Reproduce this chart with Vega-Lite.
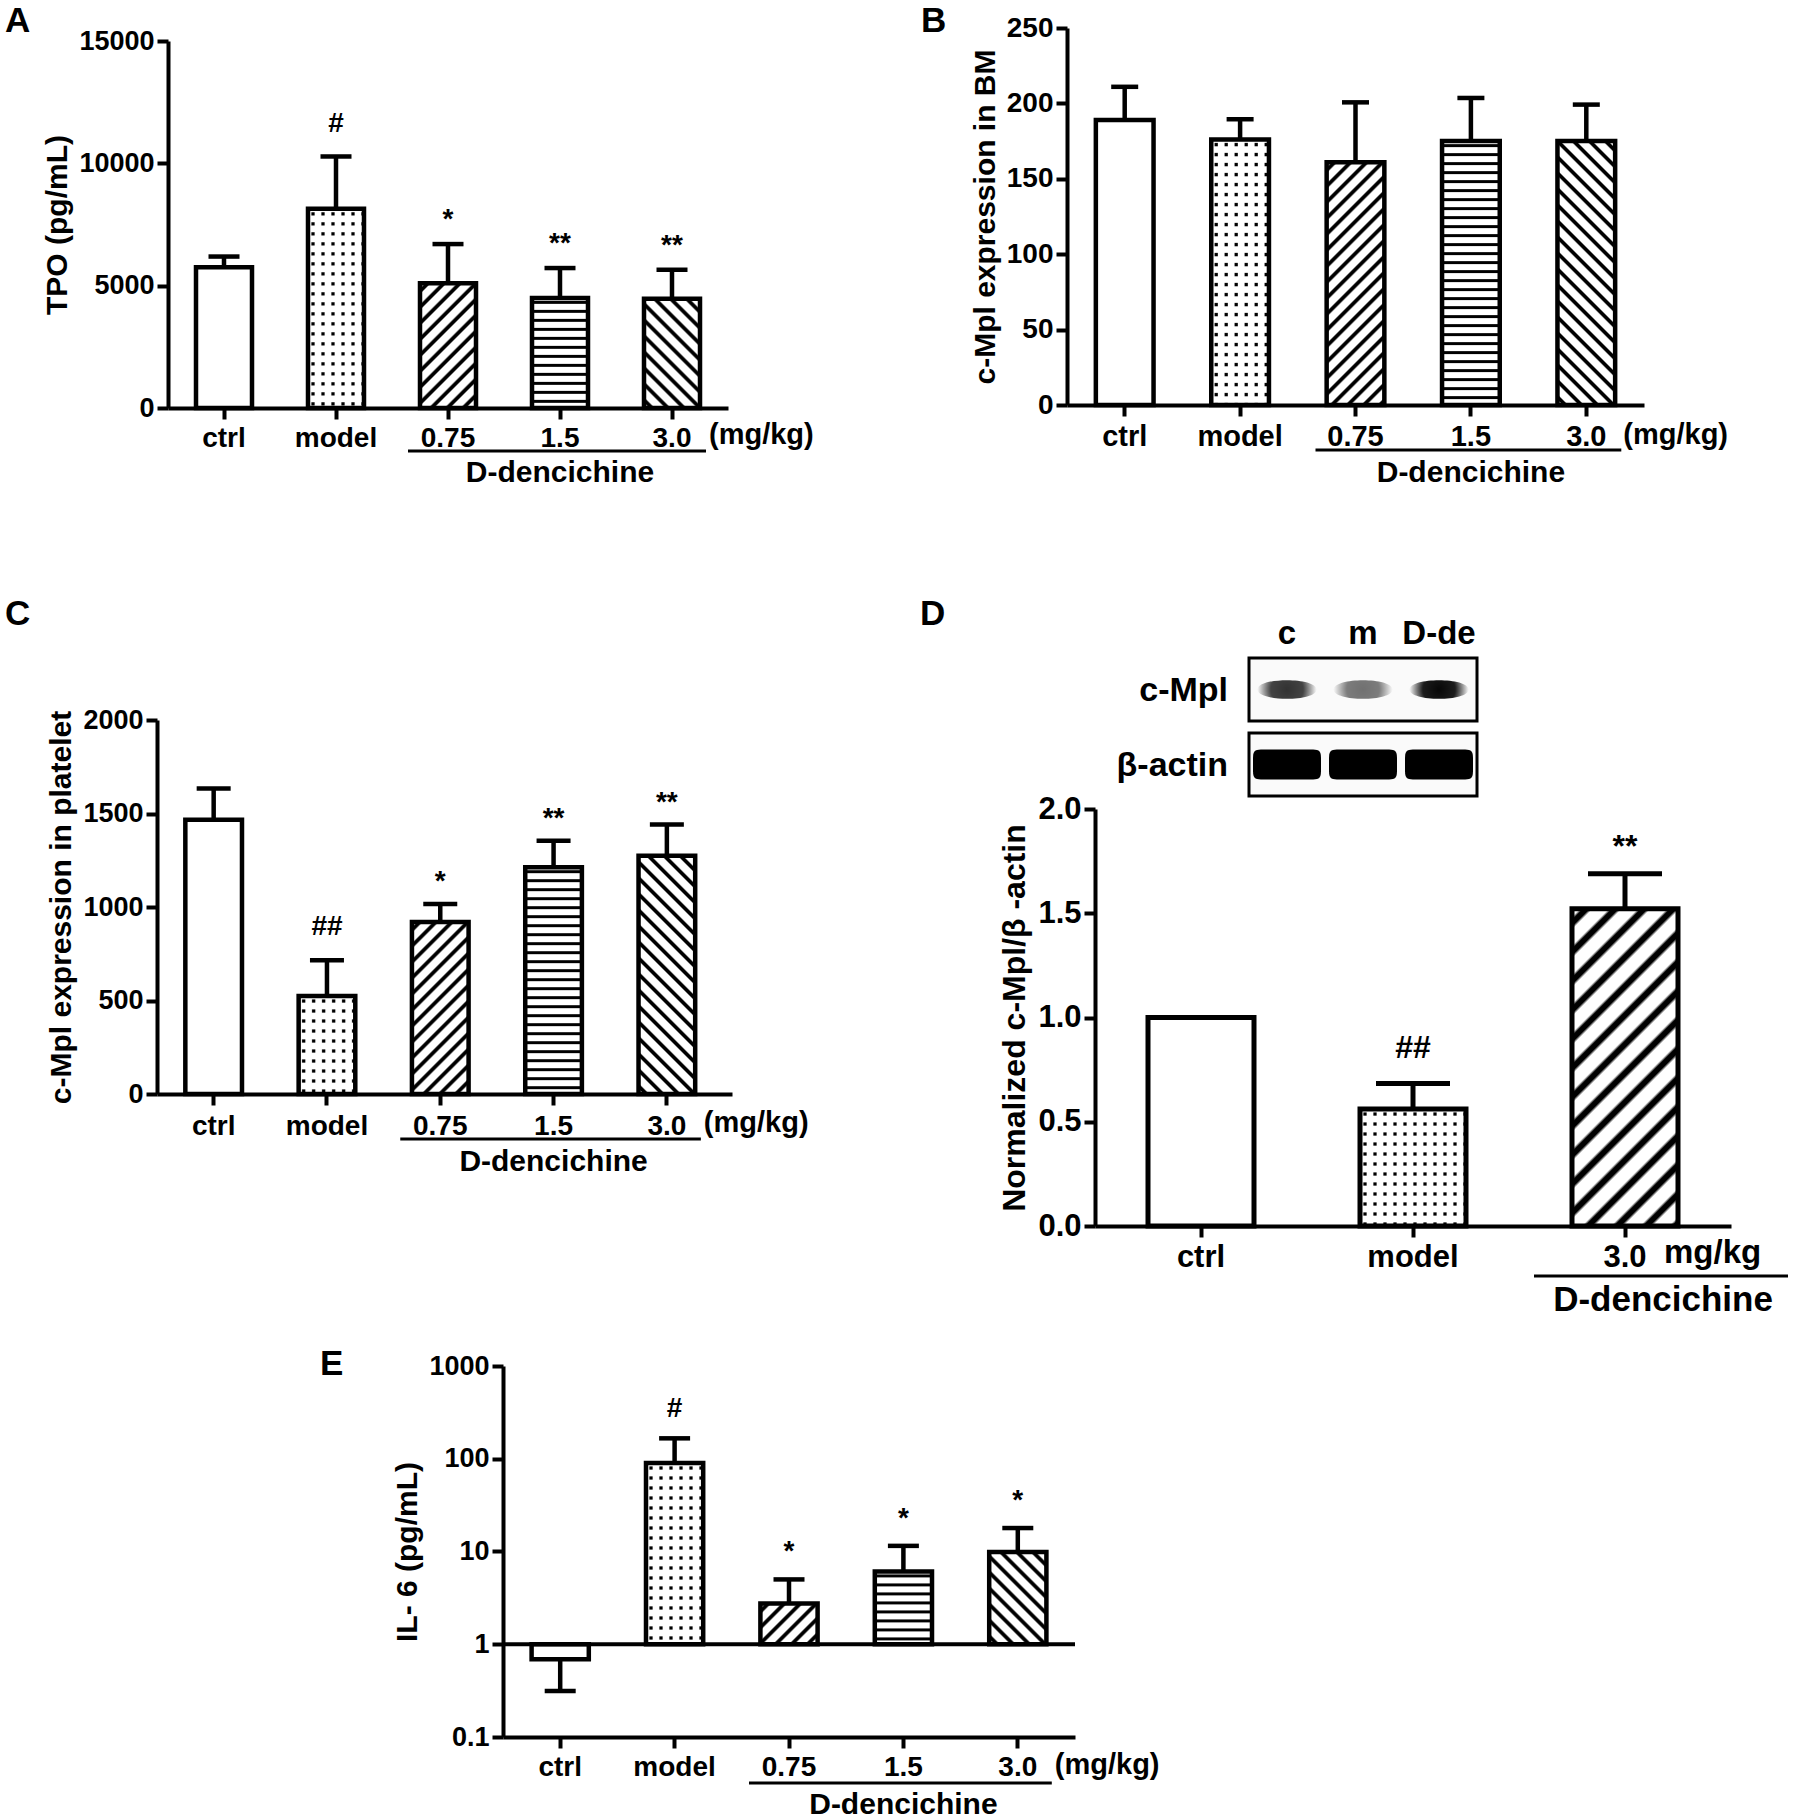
{
"$schema":"https://vega.github.io/schema/vega-lite/v6.json",
"background":"white",
"padding":{"left":4,"top":3,"right":0,"bottom":0},
"params":[
{"name":"st","value":[
{"offset":0.0092,"color":"#fff"},{"offset":0.0132,"color":"#000"},{"offset":0.0202,"color":"#000"},{"offset":0.0242,"color":"#fff"},
{"offset":0.0425,"color":"#fff"},{"offset":0.0465,"color":"#000"},{"offset":0.0535,"color":"#000"},{"offset":0.0575,"color":"#fff"},
{"offset":0.0758,"color":"#fff"},{"offset":0.0798,"color":"#000"},{"offset":0.0868,"color":"#000"},{"offset":0.0908,"color":"#fff"},
{"offset":0.1092,"color":"#fff"},{"offset":0.1132,"color":"#000"},{"offset":0.1202,"color":"#000"},{"offset":0.1242,"color":"#fff"},
{"offset":0.1425,"color":"#fff"},{"offset":0.1465,"color":"#000"},{"offset":0.1535,"color":"#000"},{"offset":0.1575,"color":"#fff"},
{"offset":0.1758,"color":"#fff"},{"offset":0.1798,"color":"#000"},{"offset":0.1868,"color":"#000"},{"offset":0.1908,"color":"#fff"},
{"offset":0.2092,"color":"#fff"},{"offset":0.2132,"color":"#000"},{"offset":0.2202,"color":"#000"},{"offset":0.2242,"color":"#fff"},
{"offset":0.2425,"color":"#fff"},{"offset":0.2465,"color":"#000"},{"offset":0.2535,"color":"#000"},{"offset":0.2575,"color":"#fff"},
{"offset":0.2758,"color":"#fff"},{"offset":0.2798,"color":"#000"},{"offset":0.2868,"color":"#000"},{"offset":0.2908,"color":"#fff"},
{"offset":0.3092,"color":"#fff"},{"offset":0.3132,"color":"#000"},{"offset":0.3202,"color":"#000"},{"offset":0.3242,"color":"#fff"},
{"offset":0.3425,"color":"#fff"},{"offset":0.3465,"color":"#000"},{"offset":0.3535,"color":"#000"},{"offset":0.3575,"color":"#fff"},
{"offset":0.3758,"color":"#fff"},{"offset":0.3798,"color":"#000"},{"offset":0.3868,"color":"#000"},{"offset":0.3908,"color":"#fff"},
{"offset":0.4092,"color":"#fff"},{"offset":0.4132,"color":"#000"},{"offset":0.4202,"color":"#000"},{"offset":0.4242,"color":"#fff"},
{"offset":0.4425,"color":"#fff"},{"offset":0.4465,"color":"#000"},{"offset":0.4535,"color":"#000"},{"offset":0.4575,"color":"#fff"},
{"offset":0.4758,"color":"#fff"},{"offset":0.4798,"color":"#000"},{"offset":0.4868,"color":"#000"},{"offset":0.4908,"color":"#fff"},
{"offset":0.5092,"color":"#fff"},{"offset":0.5132,"color":"#000"},{"offset":0.5202,"color":"#000"},{"offset":0.5242,"color":"#fff"},
{"offset":0.5425,"color":"#fff"},{"offset":0.5465,"color":"#000"},{"offset":0.5535,"color":"#000"},{"offset":0.5575,"color":"#fff"},
{"offset":0.5758,"color":"#fff"},{"offset":0.5798,"color":"#000"},{"offset":0.5868,"color":"#000"},{"offset":0.5908,"color":"#fff"},
{"offset":0.6092,"color":"#fff"},{"offset":0.6132,"color":"#000"},{"offset":0.6202,"color":"#000"},{"offset":0.6242,"color":"#fff"},
{"offset":0.6425,"color":"#fff"},{"offset":0.6465,"color":"#000"},{"offset":0.6535,"color":"#000"},{"offset":0.6575,"color":"#fff"},
{"offset":0.6758,"color":"#fff"},{"offset":0.6798,"color":"#000"},{"offset":0.6868,"color":"#000"},{"offset":0.6908,"color":"#fff"},
{"offset":0.7092,"color":"#fff"},{"offset":0.7132,"color":"#000"},{"offset":0.7202,"color":"#000"},{"offset":0.7242,"color":"#fff"},
{"offset":0.7425,"color":"#fff"},{"offset":0.7465,"color":"#000"},{"offset":0.7535,"color":"#000"},{"offset":0.7575,"color":"#fff"},
{"offset":0.7758,"color":"#fff"},{"offset":0.7798,"color":"#000"},{"offset":0.7868,"color":"#000"},{"offset":0.7908,"color":"#fff"},
{"offset":0.8092,"color":"#fff"},{"offset":0.8132,"color":"#000"},{"offset":0.8202,"color":"#000"},{"offset":0.8242,"color":"#fff"},
{"offset":0.8425,"color":"#fff"},{"offset":0.8465,"color":"#000"},{"offset":0.8535,"color":"#000"},{"offset":0.8575,"color":"#fff"},
{"offset":0.8758,"color":"#fff"},{"offset":0.8798,"color":"#000"},{"offset":0.8868,"color":"#000"},{"offset":0.8908,"color":"#fff"},
{"offset":0.9092,"color":"#fff"},{"offset":0.9132,"color":"#000"},{"offset":0.9202,"color":"#000"},{"offset":0.9242,"color":"#fff"},
{"offset":0.9425,"color":"#fff"},{"offset":0.9465,"color":"#000"},{"offset":0.9535,"color":"#000"},{"offset":0.9575,"color":"#fff"},
{"offset":0.9758,"color":"#fff"},{"offset":0.9798,"color":"#000"},{"offset":0.9868,"color":"#000"},{"offset":0.9908,"color":"#fff"}
]},
{"name":"sc","value":[
{"offset":0.0092,"color":"#fff"},{"offset":0.0132,"color":"rgba(255,255,255,0)"},{"offset":0.0202,"color":"rgba(255,255,255,0)"},{"offset":0.0242,"color":"#fff"},
{"offset":0.0425,"color":"#fff"},{"offset":0.0465,"color":"rgba(255,255,255,0)"},{"offset":0.0535,"color":"rgba(255,255,255,0)"},{"offset":0.0575,"color":"#fff"},
{"offset":0.0758,"color":"#fff"},{"offset":0.0798,"color":"rgba(255,255,255,0)"},{"offset":0.0868,"color":"rgba(255,255,255,0)"},{"offset":0.0908,"color":"#fff"},
{"offset":0.1092,"color":"#fff"},{"offset":0.1132,"color":"rgba(255,255,255,0)"},{"offset":0.1202,"color":"rgba(255,255,255,0)"},{"offset":0.1242,"color":"#fff"},
{"offset":0.1425,"color":"#fff"},{"offset":0.1465,"color":"rgba(255,255,255,0)"},{"offset":0.1535,"color":"rgba(255,255,255,0)"},{"offset":0.1575,"color":"#fff"},
{"offset":0.1758,"color":"#fff"},{"offset":0.1798,"color":"rgba(255,255,255,0)"},{"offset":0.1868,"color":"rgba(255,255,255,0)"},{"offset":0.1908,"color":"#fff"},
{"offset":0.2092,"color":"#fff"},{"offset":0.2132,"color":"rgba(255,255,255,0)"},{"offset":0.2202,"color":"rgba(255,255,255,0)"},{"offset":0.2242,"color":"#fff"},
{"offset":0.2425,"color":"#fff"},{"offset":0.2465,"color":"rgba(255,255,255,0)"},{"offset":0.2535,"color":"rgba(255,255,255,0)"},{"offset":0.2575,"color":"#fff"},
{"offset":0.2758,"color":"#fff"},{"offset":0.2798,"color":"rgba(255,255,255,0)"},{"offset":0.2868,"color":"rgba(255,255,255,0)"},{"offset":0.2908,"color":"#fff"},
{"offset":0.3092,"color":"#fff"},{"offset":0.3132,"color":"rgba(255,255,255,0)"},{"offset":0.3202,"color":"rgba(255,255,255,0)"},{"offset":0.3242,"color":"#fff"},
{"offset":0.3425,"color":"#fff"},{"offset":0.3465,"color":"rgba(255,255,255,0)"},{"offset":0.3535,"color":"rgba(255,255,255,0)"},{"offset":0.3575,"color":"#fff"},
{"offset":0.3758,"color":"#fff"},{"offset":0.3798,"color":"rgba(255,255,255,0)"},{"offset":0.3868,"color":"rgba(255,255,255,0)"},{"offset":0.3908,"color":"#fff"},
{"offset":0.4092,"color":"#fff"},{"offset":0.4132,"color":"rgba(255,255,255,0)"},{"offset":0.4202,"color":"rgba(255,255,255,0)"},{"offset":0.4242,"color":"#fff"},
{"offset":0.4425,"color":"#fff"},{"offset":0.4465,"color":"rgba(255,255,255,0)"},{"offset":0.4535,"color":"rgba(255,255,255,0)"},{"offset":0.4575,"color":"#fff"},
{"offset":0.4758,"color":"#fff"},{"offset":0.4798,"color":"rgba(255,255,255,0)"},{"offset":0.4868,"color":"rgba(255,255,255,0)"},{"offset":0.4908,"color":"#fff"},
{"offset":0.5092,"color":"#fff"},{"offset":0.5132,"color":"rgba(255,255,255,0)"},{"offset":0.5202,"color":"rgba(255,255,255,0)"},{"offset":0.5242,"color":"#fff"},
{"offset":0.5425,"color":"#fff"},{"offset":0.5465,"color":"rgba(255,255,255,0)"},{"offset":0.5535,"color":"rgba(255,255,255,0)"},{"offset":0.5575,"color":"#fff"},
{"offset":0.5758,"color":"#fff"},{"offset":0.5798,"color":"rgba(255,255,255,0)"},{"offset":0.5868,"color":"rgba(255,255,255,0)"},{"offset":0.5908,"color":"#fff"},
{"offset":0.6092,"color":"#fff"},{"offset":0.6132,"color":"rgba(255,255,255,0)"},{"offset":0.6202,"color":"rgba(255,255,255,0)"},{"offset":0.6242,"color":"#fff"},
{"offset":0.6425,"color":"#fff"},{"offset":0.6465,"color":"rgba(255,255,255,0)"},{"offset":0.6535,"color":"rgba(255,255,255,0)"},{"offset":0.6575,"color":"#fff"},
{"offset":0.6758,"color":"#fff"},{"offset":0.6798,"color":"rgba(255,255,255,0)"},{"offset":0.6868,"color":"rgba(255,255,255,0)"},{"offset":0.6908,"color":"#fff"},
{"offset":0.7092,"color":"#fff"},{"offset":0.7132,"color":"rgba(255,255,255,0)"},{"offset":0.7202,"color":"rgba(255,255,255,0)"},{"offset":0.7242,"color":"#fff"},
{"offset":0.7425,"color":"#fff"},{"offset":0.7465,"color":"rgba(255,255,255,0)"},{"offset":0.7535,"color":"rgba(255,255,255,0)"},{"offset":0.7575,"color":"#fff"},
{"offset":0.7758,"color":"#fff"},{"offset":0.7798,"color":"rgba(255,255,255,0)"},{"offset":0.7868,"color":"rgba(255,255,255,0)"},{"offset":0.7908,"color":"#fff"},
{"offset":0.8092,"color":"#fff"},{"offset":0.8132,"color":"rgba(255,255,255,0)"},{"offset":0.8202,"color":"rgba(255,255,255,0)"},{"offset":0.8242,"color":"#fff"},
{"offset":0.8425,"color":"#fff"},{"offset":0.8465,"color":"rgba(255,255,255,0)"},{"offset":0.8535,"color":"rgba(255,255,255,0)"},{"offset":0.8575,"color":"#fff"},
{"offset":0.8758,"color":"#fff"},{"offset":0.8798,"color":"rgba(255,255,255,0)"},{"offset":0.8868,"color":"rgba(255,255,255,0)"},{"offset":0.8908,"color":"#fff"},
{"offset":0.9092,"color":"#fff"},{"offset":0.9132,"color":"rgba(255,255,255,0)"},{"offset":0.9202,"color":"rgba(255,255,255,0)"},{"offset":0.9242,"color":"#fff"},
{"offset":0.9425,"color":"#fff"},{"offset":0.9465,"color":"rgba(255,255,255,0)"},{"offset":0.9535,"color":"rgba(255,255,255,0)"},{"offset":0.9575,"color":"#fff"},
{"offset":0.9758,"color":"#fff"},{"offset":0.9798,"color":"rgba(255,255,255,0)"},{"offset":0.9868,"color":"rgba(255,255,255,0)"},{"offset":0.9908,"color":"#fff"}
]}
],
"datasets":{
"A":[{"g":"ctrl","v":5750,"e":6190,"s":""},{"g":"model","v":8140,"e":10280,"s":"#"},{"g":"0.75","v":5100,"e":6700,"s":"*"},{"g":"1.5","v":4500,"e":5720,"s":"**"},{"g":"3.0","v":4470,"e":5650,"s":"**"}],
"B":[{"g":"ctrl","v":189,"e":211,"s":""},{"g":"model","v":176,"e":189.5,"s":""},{"g":"0.75","v":161,"e":200.7,"s":""},{"g":"1.5","v":175,"e":203.6,"s":""},{"g":"3.0","v":175,"e":199.2,"s":""}],
"C":[{"g":"ctrl","v":1466,"e":1634,"s":""},{"g":"model","v":524,"e":715,"s":"##"},{"g":"0.75","v":920,"e":1016,"s":"*"},{"g":"1.5","v":1213,"e":1354,"s":"**"},{"g":"3.0","v":1274,"e":1441,"s":"**"}],
"D":[{"g":"ctrl","v":1.0,"e":null,"s":""},{"g":"model","v":0.561,"e":0.683,"s":"##"},{"g":"3.0","v":1.522,"e":1.689,"s":"**"}],
"E":[{"g":"ctrl","v":0.69,"e":0.314,"s":""},{"g":"model","v":90,"e":166,"s":"#"},{"g":"0.75","v":2.75,"e":5.0,"s":"*"},{"g":"1.5","v":6.1,"e":11.5,"s":"*"},{"g":"3.0","v":9.85,"e":17.9,"s":"*"}],
"blot":[{"lane":1,"r":"c-Mpl","i":0.8},{"lane":2,"r":"c-Mpl","i":0.55},{"lane":3,"r":"c-Mpl","i":0.97},{"lane":1,"r":"β-actin","i":1},{"lane":2,"r":"β-actin","i":1},{"lane":3,"r":"β-actin","i":1}]
},
"config":{
"view":{"stroke":null},
"font":"Liberation Sans",
"title":{"fontSize":35,"fontWeight":"bold","anchor":"start","frame":"group","color":"black","font":"Liberation Sans"},
"axis":{"domainColor":"black","domainWidth":4,"tickColor":"black","tickWidth":4,"tickSize":11,"labelFont":"Liberation Sans","labelFontWeight":"bold","labelFontSize":27,"labelColor":"black","titleFont":"Liberation Sans","titleFontWeight":"bold","titleFontSize":30,"titleColor":"black","grid":false,"labelOverlap":false,"labelFlush":false,"titlePadding":6},
"axisY":{"labelPadding":3},
"axisX":{"labelPadding":5},
"text":{"font":"Liberation Sans","fontWeight":"bold","baseline":"alphabetic","color":"black"},
"bar":{"opacity":1},
"tick":{"opacity":1}
},
"vconcat":[
{"vconcat":[
{"hconcat":[
{"vconcat":[{"width":1,"height":1,"data":{"values":[{}]},"mark":{"type":"text","text":"","fontSize":0.1}},{"hconcat":[{"width":1,"height":1,"data":{"values":[{}]},"mark":{"type":"text","text":"","fontSize":0.1}},
{
"width":560,"height":367,
"title":{"text":"A","dx":-163,"offset":-12},
"data":{"name":"A"},
"encoding":{
"x":{"field":"g","type":"nominal","scale":{"domain":["ctrl","model","0.75","1.5","3.0"],"paddingInner":0.5,"paddingOuter":0.25},"axis":{"title":null,"labelAngle":0,"labelFontSize":28,"labelPadding":5}},
"y":{"field":"v","type":"quantitative","scale":{"domain":[0,15000]},"title":"TPO (pg/mL)","axis":{"values":[0,5000,10000,15000],"format":"d"}}
},
"layer":[
{"transform":[{"filter":"datum.g=='ctrl'"}],"mark":{"type":"bar","fill":"white","stroke":"black","strokeWidth":4.5}},
{"transform":[{"filter":"datum.g=='model'"}],"mark":{"type":"bar","fill":{"expr":"{gradient:'linear',x1:0,y1:0,x2:0.0001,y2:1.5063,stops:st}"}}},
{"transform":[{"filter":"datum.g=='model'"}],"mark":{"type":"bar","fill":{"expr":"{gradient:'linear',x1:0,y1:0,x2:5.3571,y2:0.0001,stops:sc}"},"stroke":"black","strokeWidth":4.5}},
{"transform":[{"filter":"datum.g=='0.75'"}],"mark":{"type":"bar","fill":{"expr":"{gradient:'linear',x1:0,y1:0,x2:1.4366,y2:3.2016,stops:st}"},"stroke":"black","strokeWidth":4.5}},
{"transform":[{"filter":"datum.g=='1.5'"}],"mark":{"type":"bar","fill":{"expr":"{gradient:'linear',x1:0,y1:0,x2:0.0001,y2:2.4523,stops:st}"},"stroke":"black","strokeWidth":4.5}},
{"transform":[{"filter":"datum.g=='3.0'"}],"mark":{"type":"bar","fill":{"expr":"{gradient:'linear',x1:0,y1:1,x2:1.7804,y2:-2.4771,stops:st}"},"stroke":"black","strokeWidth":4.5}},
{"mark":{"type":"rule","strokeWidth":4.5,"color":"black"},"encoding":{"y2":{"field":"e"}}},
{"mark":{"type":"tick","thickness":4.5,"size":31,"color":"black"},"encoding":{"y":{"field":"e","type":"quantitative","title":"TPO (pg/mL)"}}},
{"transform":[{"filter":"indexof(datum.s,'#')>=0"}],"mark":{"type":"text","fontSize":28,"dy":-24},"encoding":{"y":{"field":"e","type":"quantitative","title":"TPO (pg/mL)"},"text":{"field":"s"}}},
{"transform":[{"filter":"indexof(datum.s,'*')>=0"}],"mark":{"type":"text","fontSize":28,"dy":-16},"encoding":{"y":{"field":"e","type":"quantitative","title":"TPO (pg/mL)"},"text":{"field":"s"}}},
{"transform":[{"filter":"datum.g=='3.0'"}],"mark":{"type":"text","text":"(mg/kg)","align":"left","fontSize":29,"dx":37,"dy":36},"encoding":{"y":{"datum":0}}},
{"transform":[{"filter":"datum.g=='0.75'"}],"mark":{"type":"rule","strokeWidth":3,"color":"black","xOffset":-40,"x2Offset":34,"yOffset":43},"encoding":{"x2":{"datum":"3.0"},"y":{"datum":0}}},
{"transform":[{"filter":"datum.g=='1.5'"}],"mark":{"type":"text","text":"D-dencichine","fontSize":30,"dy":74},"encoding":{"y":{"datum":0}}}
]
}
],"spacing":0}],"spacing":0},
{"vconcat":[{"width":1,"height":1,"data":{"values":[{}]},"mark":{"type":"text","text":"","fontSize":0.1}},{"hconcat":[{"width":1,"height":1,"data":{"values":[{}]},"mark":{"type":"text","text":"","fontSize":0.1}},
{
"width":577,"height":377,
"title":{"text":"B","dx":-146,"offset":-25},
"data":{"name":"B"},
"encoding":{
"x":{"field":"g","type":"nominal","scale":{"domain":["ctrl","model","0.75","1.5","3.0"],"paddingInner":0.5,"paddingOuter":0.25},"axis":{"title":null,"labelAngle":0,"labelFontSize":29,"labelPadding":6}},
"y":{"field":"v","type":"quantitative","scale":{"domain":[0,250]},"title":"c-Mpl expression in BM","axis":{"values":[0,50,100,150,200,250],"labelFontSize":28}}
},
"layer":[
{"transform":[{"filter":"datum.g=='ctrl'"}],"mark":{"type":"bar","fill":"white","stroke":"black","strokeWidth":4.5}},
{"transform":[{"filter":"datum.g=='model'"}],"mark":{"type":"bar","fill":{"expr":"{gradient:'linear',x1:0,y1:0,x2:0.0001,y2:1.1304,stops:st}"}}},
{"transform":[{"filter":"datum.g=='model'"}],"mark":{"type":"bar","fill":{"expr":"{gradient:'linear',x1:0,y1:0,x2:5.1993,y2:0.0001,stops:sc}"},"stroke":"black","strokeWidth":4.5}},
{"transform":[{"filter":"datum.g=='0.75'"}],"mark":{"type":"bar","fill":{"expr":"{gradient:'linear',x1:0,y1:0,x2:0.4447,y2:1.8712,stops:st}"},"stroke":"black","strokeWidth":4.5}},
{"transform":[{"filter":"datum.g=='1.5'"}],"mark":{"type":"bar","fill":{"expr":"{gradient:'linear',x1:0,y1:0,x2:0.0001,y2:1.0231,stops:st}"},"stroke":"black","strokeWidth":4.5}},
{"transform":[{"filter":"datum.g=='3.0'"}],"mark":{"type":"bar","fill":{"expr":"{gradient:'linear',x1:0,y1:1,x2:0.3795,y2:-0.7359,stops:st}"},"stroke":"black","strokeWidth":4.5}},
{"mark":{"type":"rule","strokeWidth":4.5,"color":"black"},"encoding":{"y2":{"field":"e"}}},
{"mark":{"type":"tick","thickness":4.5,"size":27,"color":"black"},"encoding":{"y":{"field":"e","type":"quantitative","title":"c-Mpl expression in BM"}}},
{"transform":[{"filter":"datum.g=='3.0'"}],"mark":{"type":"text","text":"(mg/kg)","align":"left","fontSize":29,"dx":37,"dy":39},"encoding":{"y":{"datum":0}}},
{"transform":[{"filter":"datum.g=='0.75'"}],"mark":{"type":"rule","strokeWidth":3,"color":"black","xOffset":-40,"x2Offset":35,"yOffset":45},"encoding":{"x2":{"datum":"3.0"},"y":{"datum":0}}},
{"transform":[{"filter":"datum.g=='1.5'"}],"mark":{"type":"text","text":"D-dencichine","fontSize":30,"dy":77},"encoding":{"y":{"datum":0}}}
]
}
],"spacing":0}],"spacing":0}
],"spacing":106},
{"hconcat":[
{"vconcat":[{"width":1,"height":1,"data":{"values":[{}]},"mark":{"type":"text","text":"","fontSize":0.1}},{"hconcat":[{"width":1,"height":1,"data":{"values":[{}]},"mark":{"type":"text","text":"","fontSize":0.1}},
{
"width":575,"height":374,
"title":{"text":"C","dx":-152,"offset":74},
"data":{"name":"C"},
"encoding":{
"x":{"field":"g","type":"nominal","scale":{"domain":["ctrl","model","0.75","1.5","3.0"],"paddingInner":0.5,"paddingOuter":0.2875,"align":0.435},"axis":{"title":null,"labelAngle":0,"labelFontSize":28,"labelPadding":7}},
"y":{"field":"v","type":"quantitative","scale":{"domain":[0,2000]},"title":"c-Mpl expression in platelet","axis":{"values":[0,500,1000,1500,2000],"format":"d"}}
},
"layer":[
{"transform":[{"filter":"datum.g=='ctrl'"}],"mark":{"type":"bar","fill":"white","stroke":"black","strokeWidth":4.5}},
{"transform":[{"filter":"datum.g=='model'"}],"mark":{"type":"bar","fill":{"expr":"{gradient:'linear',x1:0,y1:0,x2:0.0001,y2:3.0616,stops:st}"}}},
{"transform":[{"filter":"datum.g=='model'"}],"mark":{"type":"bar","fill":{"expr":"{gradient:'linear',x1:0,y1:0,x2:5.2957,y2:0.0001,stops:sc}"},"stroke":"black","strokeWidth":4.5}},
{"transform":[{"filter":"datum.g=='0.75'"}],"mark":{"type":"bar","fill":{"expr":"{gradient:'linear',x1:0,y1:0,x2:0.8288,y2:2.5171,stops:st}"},"stroke":"black","strokeWidth":4.5}},
{"transform":[{"filter":"datum.g=='1.5'"}],"mark":{"type":"bar","fill":{"expr":"{gradient:'linear',x1:0,y1:0,x2:0.0001,y2:1.1903,stops:st}"},"stroke":"black","strokeWidth":4.5}},
{"transform":[{"filter":"datum.g=='3.0'"}],"mark":{"type":"bar","fill":{"expr":"{gradient:'linear',x1:0,y1:1,x2:0.4534,y2:-0.9070,stops:st}"},"stroke":"black","strokeWidth":4.5}},
{"mark":{"type":"rule","strokeWidth":4.5,"color":"black"},"encoding":{"y2":{"field":"e"}}},
{"mark":{"type":"tick","thickness":4.5,"size":34,"color":"black"},"encoding":{"y":{"field":"e","type":"quantitative","title":"c-Mpl expression in platelet"}}},
{"transform":[{"filter":"indexof(datum.s,'#')>=0"}],"mark":{"type":"text","fontSize":28,"dy":-25},"encoding":{"y":{"field":"e","type":"quantitative","title":"c-Mpl expression in platelet"},"text":{"field":"s"}}},
{"transform":[{"filter":"indexof(datum.s,'*')>=0"}],"mark":{"type":"text","fontSize":28,"dy":-14},"encoding":{"y":{"field":"e","type":"quantitative","title":"c-Mpl expression in platelet"},"text":{"field":"s"}}},
{"transform":[{"filter":"datum.g=='3.0'"}],"mark":{"type":"text","text":"(mg/kg)","align":"left","fontSize":29,"dx":37,"dy":38},"encoding":{"y":{"datum":0}}},
{"transform":[{"filter":"datum.g=='0.75'"}],"mark":{"type":"rule","strokeWidth":3,"color":"black","xOffset":-40,"x2Offset":34,"yOffset":45},"encoding":{"x2":{"datum":"3.0"},"y":{"datum":0}}},
{"transform":[{"filter":"datum.g=='1.5'"}],"mark":{"type":"text","text":"D-dencichine","fontSize":30,"dy":77},"encoding":{"y":{"datum":0}}}
]
}
],"spacing":0}],"spacing":0},
{"vconcat":[{"width":1,"height":1,"data":{"values":[{}]},"mark":{"type":"text","text":"","fontSize":0.1}},{"hconcat":[{"width":1,"height":1,"data":{"values":[{}]},"mark":{"type":"text","text":"","fontSize":0.1}},
{
"width":636,"height":417,
"title":{"text":"D","dx":-175,"offset":-14.5},
"layer":[
{
"data":{"name":"D"},
"encoding":{
"x":{"field":"g","type":"nominal","scale":{"domain":["ctrl","model","3.0"],"paddingInner":0.5,"paddingOuter":0.25},"axis":{"title":null,"labelAngle":0,"labelFontSize":31,"labelPadding":5}},
"y":{"field":"v","type":"quantitative","scale":{"domain":[0,2]},"title":"Normalized c-Mpl/β -actin","axis":{"values":[0,0.5,1,1.5,2],"format":".1f","labelFontSize":31,"titleFontSize":32}}
},
"layer":[
{"transform":[{"filter":"datum.g=='ctrl'"}],"mark":{"type":"bar","fill":"white","stroke":"black","strokeWidth":5}},
{"transform":[{"filter":"datum.g=='model'"}],"mark":{"type":"bar","fill":{"expr":"{gradient:'linear',x1:0,y1:0,x2:0.0001,y2:2.5641,stops:st}"}}},
{"transform":[{"filter":"datum.g=='model'"}],"mark":{"type":"bar","fill":{"expr":"{gradient:'linear',x1:0,y1:0,x2:2.8302,y2:0.0001,stops:sc}"},"stroke":"black","strokeWidth":5}},
{"transform":[{"filter":"datum.g=='3.0'"}],"mark":{"type":"bar","fill":{"expr":"{gradient:'linear',x1:0,y1:0,x2:0.8240,y2:2.4666,stops:st}"},"stroke":"black","strokeWidth":5}},
{"transform":[{"filter":"datum.e!=null"}],"mark":{"type":"rule","strokeWidth":5,"color":"black"},"encoding":{"y2":{"field":"e"}}},
{"transform":[{"filter":"datum.e!=null"}],"mark":{"type":"tick","thickness":5,"size":74,"color":"black"},"encoding":{"y":{"field":"e","type":"quantitative","title":"Normalized c-Mpl/β -actin"}}},
{"transform":[{"filter":"indexof(datum.s,'#')>=0"}],"mark":{"type":"text","fontSize":32,"dy":-26},"encoding":{"y":{"field":"e","type":"quantitative","title":"Normalized c-Mpl/β -actin"},"text":{"field":"s"}}},
{"transform":[{"filter":"indexof(datum.s,'*')>=0"}],"mark":{"type":"text","fontSize":32,"dy":-17},"encoding":{"y":{"field":"e","type":"quantitative","title":"Normalized c-Mpl/β -actin"},"text":{"field":"s"}}},
{"transform":[{"filter":"datum.g=='3.0'"}],"mark":{"type":"text","text":"mg/kg","align":"left","fontSize":33,"dx":39,"dy":37},"encoding":{"y":{"datum":0}}},
{"transform":[{"filter":"datum.g=='3.0'"}],"mark":{"type":"rule","strokeWidth":3,"color":"black","xOffset":-91,"x2Offset":163,"yOffset":50},"encoding":{"x2":{"datum":"3.0"},"y":{"datum":0}}},
{"transform":[{"filter":"datum.g=='3.0'"}],"mark":{"type":"text","text":"D-dencichine","fontSize":35,"dx":38,"dy":85},"encoding":{"y":{"datum":0}}}
]
},
{
"data":{"name":"blot"},
"layer":[
{"data":{"values":[{"r":"c-Mpl"},{"r":"β-actin"}]},"mark":{"type":"rect","fill":"#fafafa","stroke":"black","strokeWidth":3},
"encoding":{"x":{"datum":0.5,"type":"quantitative","scale":{"domain":[0.5,3.5],"range":[154,382],"padding":0,"zero":false,"nice":false},"axis":null},"x2":{"datum":3.5},
"y":{"field":"r","type":"nominal","scale":{"domain":["c-Mpl","β-actin"],"range":[-151,-13],"paddingInner":0.16,"paddingOuter":0},"axis":null}}},
{"transform":[{"filter":"datum.r=='c-Mpl'"}],"mark":{"type":"point","shape":"M-1,0C-1,-0.42,1,-0.42,1,0C1,0.42,-1,0.42,-1,0Z","size":3481,"filled":true,"strokeWidth":0,"fill":{"gradient":"radial","x1":0.5,"y1":0.5,"r1":0,"x2":0.5,"y2":0.5,"r2":0.5,"stops":[{"offset":0,"color":"#000"},{"offset":0.55,"color":"#151515"},{"offset":1,"color":"rgba(0,0,0,0)"}]}},
"encoding":{"x":{"field":"lane","type":"quantitative","axis":null},"y":{"field":"r","type":"nominal","axis":null},"opacity":{"field":"i","type":"quantitative","scale":{"domain":[0,1],"range":[0,1]},"legend":null}}},
{"transform":[{"filter":"datum.r=='β-actin'"}],"mark":{"type":"point","shape":"M-1,-0.2C-1,-0.44,-0.9,-0.44,-0.7,-0.44L0.7,-0.44C0.9,-0.44,1,-0.44,1,-0.2L1,0.2C1,0.44,0.9,0.44,0.7,0.44L-0.7,0.44C-0.9,0.44,-1,0.44,-1,0.2Z","size":4624,"filled":true,"fill":"#000","strokeWidth":0,"opacity":1},
"encoding":{"x":{"field":"lane","type":"quantitative","axis":null},"y":{"field":"r","type":"nominal","axis":null}}},
{"data":{"values":[{"lane":1,"t":"c"},{"lane":2,"t":"m"},{"lane":3,"t":"D-de"}]},"mark":{"type":"text","fontSize":33,"dy":-46},
"encoding":{"x":{"field":"lane","type":"quantitative","axis":null},"y":{"datum":"c-Mpl","type":"nominal","axis":null},"text":{"field":"t"}}},
{"data":{"values":[{"r":"c-Mpl"},{"r":"β-actin"}]},"mark":{"type":"text","fontSize":34,"align":"right","baseline":"middle","dx":-21,"dy":1},
"encoding":{"x":{"datum":0.5,"type":"quantitative","axis":null},"y":{"field":"r","type":"nominal","axis":null},"text":{"field":"r"}}}
]
}
],
"resolve":{"scale":{"x":"independent","y":"independent"}}
}
],"spacing":0}],"spacing":0}
],"spacing":110}
],"spacing":108},
{"hconcat":[
{"width":315,"height":1,"data":{"values":[{}]},"mark":{"type":"text","text":"","fontSize":0.1}},
{"vconcat":[{"width":1,"height":1,"data":{"values":[{}]},"mark":{"type":"text","text":"","fontSize":0.1}},{"hconcat":[{"width":1,"height":1,"data":{"values":[{}]},"mark":{"type":"text","text":"","fontSize":0.1}},
{
"width":572,"height":371,
"title":{"text":"E","dx":-183,"offset":-29.5},
"layer":[
{
"data":{"name":"E"},
"encoding":{
"x":{"field":"g","type":"nominal","scale":{"domain":["ctrl","model","0.75","1.5","3.0"],"paddingInner":0.5,"paddingOuter":0.25},"axis":{"title":null,"labelAngle":0,"labelFontSize":28,"labelPadding":5}},
"y":{"field":"v","type":"quantitative","scale":{"type":"log","domain":[0.1,1000]},"title":"IL- 6 (pg/mL)","axis":{"values":[0.1,1,10,100,1000],"format":"~g"}}
},
"layer":[
{"transform":[{"filter":"datum.g=='ctrl'"}],"mark":{"type":"bar","fill":"white","stroke":"black","strokeWidth":4.5},"encoding":{"y2":{"datum":1}}},
{"transform":[{"filter":"datum.g=='model'"}],"mark":{"type":"bar","fill":{"expr":"{gradient:'linear',x1:0,y1:0,x2:0.0001,y2:1.6551,stops:st}"}},"encoding":{"y2":{"datum":1}}},
{"transform":[{"filter":"datum.g=='model'"}],"mark":{"type":"bar","fill":{"expr":"{gradient:'linear',x1:0,y1:0,x2:5.2448,y2:0.0001,stops:sc}"},"stroke":"black","strokeWidth":4.5},"encoding":{"y2":{"datum":1}}},
{"transform":[{"filter":"datum.g=='0.75'"}],"mark":{"type":"bar","fill":{"expr":"{gradient:'linear',x1:0,y1:0,x2:5.5665,y2:3.9657,stops:st}"},"stroke":"black","strokeWidth":4.5},"encoding":{"y2":{"datum":1}}},
{"transform":[{"filter":"datum.g=='1.5'"}],"mark":{"type":"bar","fill":{"expr":"{gradient:'linear',x1:0,y1:0,x2:0.0001,y2:3.7068,stops:st}"},"stroke":"black","strokeWidth":4.5},"encoding":{"y2":{"datum":1}}},
{"transform":[{"filter":"datum.g=='3.0'"}],"mark":{"type":"bar","fill":{"expr":"{gradient:'linear',x1:0,y1:1,x2:2.3344,y2:-2.7603,stops:st}"},"stroke":"black","strokeWidth":4.5},"encoding":{"y2":{"datum":1}}},
{"mark":{"type":"rule","strokeWidth":4.5,"color":"black"},"encoding":{"y2":{"field":"e"}}},
{"mark":{"type":"tick","thickness":4.5,"size":31,"color":"black"},"encoding":{"y":{"field":"e","type":"quantitative","title":"IL- 6 (pg/mL)"}}},
{"transform":[{"filter":"indexof(datum.s,'#')>=0"}],"mark":{"type":"text","fontSize":28,"dy":-21},"encoding":{"y":{"field":"e","type":"quantitative","title":"IL- 6 (pg/mL)"},"text":{"field":"s"}}},
{"transform":[{"filter":"indexof(datum.s,'*')>=0"}],"mark":{"type":"text","fontSize":28,"dy":-19},"encoding":{"y":{"field":"e","type":"quantitative","title":"IL- 6 (pg/mL)"},"text":{"field":"s"}}},
{"transform":[{"filter":"datum.g=='3.0'"}],"mark":{"type":"text","text":"(mg/kg)","align":"left","fontSize":29,"dx":37,"dy":37},"encoding":{"y":{"datum":0.1}}},
{"transform":[{"filter":"datum.g=='0.75'"}],"mark":{"type":"rule","strokeWidth":3,"color":"black","xOffset":-40,"x2Offset":34,"yOffset":46},"encoding":{"x2":{"datum":"3.0"},"y":{"datum":0.1}}},
{"transform":[{"filter":"datum.g=='1.5'"}],"mark":{"type":"text","text":"D-dencichine","fontSize":30,"dy":77},"encoding":{"y":{"datum":0.1}}}
]
},
{"data":{"values":[{}]},"mark":{"type":"rule","strokeWidth":4,"color":"black"},"encoding":{"y":{"datum":1}}}
]
}
],"spacing":0}],"spacing":0}
],"spacing":0}
],
"spacing":27
}
